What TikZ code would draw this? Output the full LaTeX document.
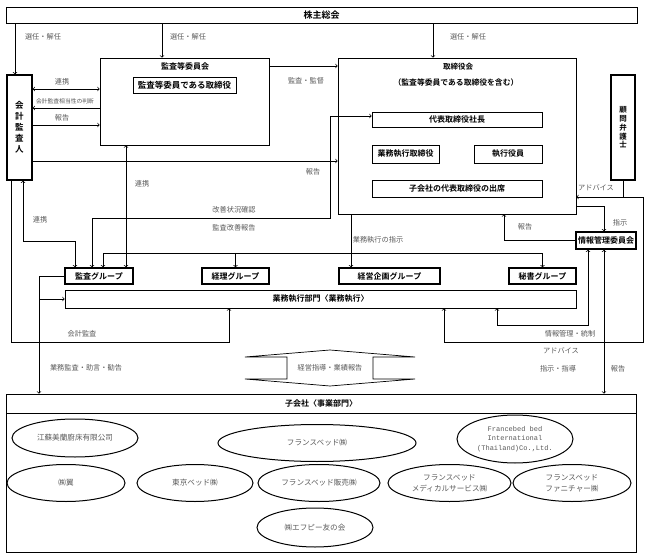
\documentclass[tikz,border=0pt]{standalone}
\usepackage{fontspec}
\setmainfont{Noto Sans CJK JP}[BoldFont={Noto Sans CJK JP Bold}]
\newfontfamily\monoft{Liberation Mono}
\usetikzlibrary{shapes.geometric}

\begin{document}
\begin{tikzpicture}[x=1pt, y=-1pt, line width=0.7pt,
  box/.style={draw, inner sep=0pt, font=\bfseries\fontsize{8}{9}\selectfont},
  gbox/.style={box, line width=1.3pt},
  vbox/.style={box, line width=1.2pt, align=center},
  lbl/.style={font=\fontsize{7.2}{8}\selectfont, text=black!65},
  ell/.style={ellipse, draw, line width=1pt, inner sep=0pt, align=center, font=\fontsize{7.6}{11}\selectfont, text=black!65}]
\useasboundingbox (0,0) rectangle (648,556);

\node[box, line width=0.9pt, minimum width=631, minimum height=16, font=\bfseries\fontsize{9}{10}\selectfont] (kabu) at (321.5,15) {株主総会};
\node[vbox, minimum width=25, minimum height=105, font=\bfseries\fontsize{8.5}{11}\selectfont] (kaikei) at (19.5,127.5) {会\\計\\監\\査\\人};
\node[vbox, minimum width=24, minimum height=105, font=\bfseries\fontsize{7.5}{8.75}\selectfont] (komon) at (623,127.5) {顧\\問\\弁\\護\\士};

\node[box, minimum width=169, minimum height=87] (kansa) at (184.5,101.5) {};
\node[box, draw=none] (kansaT) at (185,66) {監査等委員会};
\node[box, minimum width=103, minimum height=16, font=\bfseries\fontsize{8.5}{9}\selectfont] (kansaD) at (184.5,85) {監査等委員である取締役};

\node[box, minimum width=238, minimum height=156] (tori) at (457,136) {};
\node[box, draw=none, font=\bfseries\fontsize{7.5}{9}\selectfont] (toriT) at (458,67) {取締役会};
\node[box, draw=none, font=\bfseries\fontsize{7.8}{9}\selectfont] (toriS) at (456,83) {（監査等委員である取締役を含む）};
\node[box, minimum width=170, minimum height=15] (daihyo) at (457,119.5) {代表取締役社長};
\node[box, minimum width=67, minimum height=18] (gyomu) at (405.5,154) {業務執行取締役};
\node[box, minimum width=68, minimum height=18] (shikko) at (508,154) {執行役員};
\node[box, minimum width=170, minimum height=17] (kodai) at (457,188.5) {子会社の代表取締役の出席};

\node[gbox, minimum width=60, minimum height=17] (joho) at (606,240.5) {情報管理委員会};
\node[gbox, minimum width=68, minimum height=16] (kansag) at (99,276) {監査グループ};
\node[gbox, minimum width=67, minimum height=16] (keiri) at (235.5,276) {経理グループ};
\node[gbox, minimum width=101, minimum height=16] (keiei) at (389.5,276) {経営企画グループ};
\node[gbox, minimum width=67, minimum height=16] (hisho) at (542.5,276) {秘書グループ};
\node[box, minimum width=511, minimum height=18] (bumon) at (320.5,299) {業務執行部門〈業務執行〉};

\draw (330,350) -- (415,357) -- (373,357) -- (373,379) -- (415,379) -- (330,386) -- (245,379) -- (287,379) -- (287,357) -- (245,357) -- cycle;
\node[lbl] (sido) at (330,368) {経営指導・業績報告};

\node[box, minimum width=630, minimum height=19] (kgH) at (321,403.5) {子会社〈事業部門〉};
\node[box, minimum width=630, minimum height=139] (kgB) at (321,482.5) {};
\node[ell, minimum width=126, minimum height=38] (e1) at (75,438) {江蘇美蘭廚床有限公司};
\node[ell, minimum width=198, minimum height=37] (e2) at (317,443) {フランスベッド㈱};
\node[ell, minimum width=116, minimum height=48, font=\monoft\fontsize{7}{9.5}\selectfont] (e3) at (515,439) {Francebed bed\\International\\(Thailand)Co.,Ltd.};
\node[ell, minimum width=118, minimum height=37] (e4) at (66,483) {㈱翼};
\node[ell, minimum width=116, minimum height=37] (e5) at (195,483) {東京ベッド㈱};
\node[ell, minimum width=122, minimum height=37] (e6) at (319,483) {フランスベッド販売㈱};
\node[ell, minimum width=123, minimum height=37] (e7) at (449.5,483) {フランスベッド\\メディカルサービス㈱};
\node[ell, minimum width=118, minimum height=37] (e8) at (572,483) {フランスベッド\\ファニチャー㈱};
\node[ell, minimum width=116, minimum height=39] (e9) at (315,527.5) {㈱エフピー友の会};

\draw[->] (kabu.south -| 15,0) -- (kaikei.north -| 15,0);
\draw[->] (kabu.south -| 162,0) -- (kansa.north -| 162,0);
\draw[->] (kabu.south -| 433,0) -- (tori.north -| 433,0);
\node[lbl] (l1) at (43,37) {選任・解任};
\node[lbl] (l2) at (188,37) {選任・解任};
\node[lbl] (l3) at (468,37) {選任・解任};

\draw[<->] (kaikei.east |- 0,89) -- (kansa.west |- 0,89);
\draw[<-] (kaikei.east |- 0,108) -- (kansa.west |- 0,108);
\draw[->] (kaikei.east |- 0,125) -- (kansa.west |- 0,125);
\node[lbl] (l4) at (62,82) {連携};
\node[lbl, font=\fontsize{5.8}{6}\selectfont] (l5) at (65,101) {会計監査相当性の判断};
\node[lbl] (l6) at (62,118) {報告};

\draw[->] (kansa.east |- 0,66) -- (tori.west |- 0,66);
\node[lbl] (l7) at (306,81) {監査・監督};
\draw[->] (kaikei.east |- 0,161) -- (tori.west |- 0,161);
\node[lbl] (l8) at (313,172) {報告};

\draw[<->] (kaikei.south -| 23,0) |- (75,241) -- (kansag.north -| 75,0);
\node[lbl] (l9) at (40,220) {連携};
\draw[<->] (kansa.south -| 126,0) -- (kansag.north -| 126,0);
\node[lbl] (l10) at (142,184) {連携};
\draw[<->] (daihyo.west |- 0,116) -| (330,218) -| (kansag.north -| 92,0);
\node[lbl] (l11) at (234,210) {改善状況確認};
\node[lbl] (l12) at (234,228) {監査改善報告};

\draw[->] (tori.south -| 351,0) -- (keiei.north -| 351,0);
\draw[<->] (kansag.north -| 103,0) |- (hisho.north |- 0,253) -- (hisho.north);
\draw[->] (keiri.north |- 0,253) -- (keiri.north);
\node[lbl] (l13) at (378,240) {業務執行の指示};

\draw[->] (tori.east |- 0,206) -| (joho.north -| 604,0);
\node[lbl] (l14) at (620,223) {指示};
\draw[->] (joho.west) -| (tori.south -| 504,0);
\node[lbl] (l15) at (525,227) {報告};
\draw[->] (komon.south) |- (tori.east |- 0,197);
\coordinate (cr) at (643,342);
\draw[->] (komon.south |- 0,197) -| (cr) -| (bumon.south -| 444,0);
\node[lbl] (l16) at (596,188) {アドバイス};
\node[lbl] (l17) at (561,351) {アドバイス};
\draw[<->] (joho.south -| 588,0) |- (497,325) -- (bumon.south -| 497,0);
\node[lbl] (l18) at (570,334) {情報管理・統制};
\draw[<->] (joho.south -| 604,0) -- (kgH.north -| 604,0);
\node[lbl] (l19) at (558,369) {指示・指導};
\node[lbl] (l20) at (618,369) {報告};

\draw[->] (kansag.west) -| (kgH.north -| 39,0);
\draw[->] (bumon.west -| 39,0) -- (bumon.west);
\node[lbl] (l21) at (86,368) {業務監査・助言・勧告};
\draw[->] (kaikei.south -| 11,0) |- (229,342) -- (bumon.south -| 229,0);
\node[lbl] (l22) at (82,334) {会計監査};

\end{tikzpicture}
\end{document}
